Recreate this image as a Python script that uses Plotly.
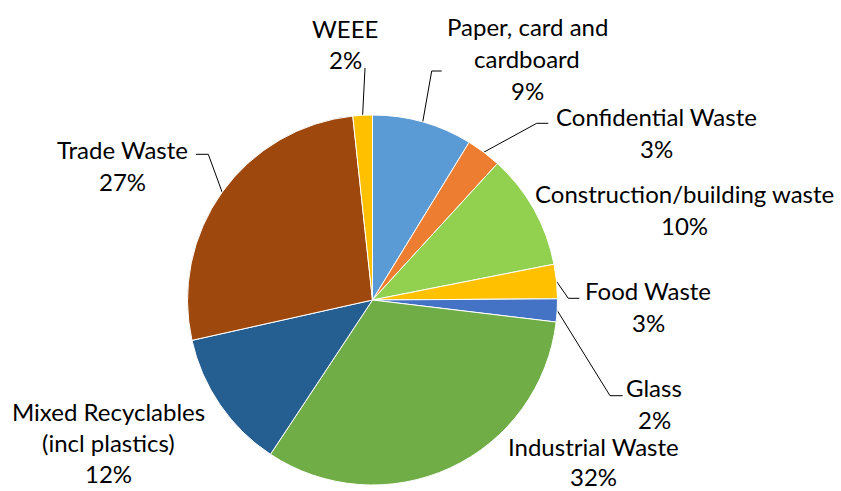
import math
import plotly.graph_objects as go

# Waste stream shares (%), clockwise from 12 o'clock
categories = [
    "Paper, card and cardboard",
    "Confidential Waste",
    "Construction/building waste",
    "Food Waste",
    "Glass",
    "Industrial Waste",
    "Mixed Recyclables (incl plastics)",
    "Trade Waste",
    "WEEE",
]
values = [8.75, 3.05, 10.1, 3.0, 2.0, 32.4, 12.2, 26.8, 1.7]
colors = ["#5B9BD5", "#ED7D31", "#92D050", "#FFC000", "#4472C4",
          "#70AD47", "#255E91", "#9E480E", "#FFC000"]

W, H = 841, 491
FONT = "Lato"
FSIZE = 24
LINE_GAP = 32

# pie geometry in pixels
CX, CY, R = 372.5, 300.0, 185.0

# how each category name is wrapped on the chart
wrapped = {
    "Paper, card and cardboard": ["Paper, card and", "cardboard"],
    "Mixed Recyclables (incl plastics)": ["Mixed Recyclables", "(incl plastics)"],
}

# label placement: centre x, centre y of first line (pixels), line gap
label_pos = {
    "Paper, card and cardboard": (527, 26, LINE_GAP),
    "Confidential Waste": (656, 116, LINE_GAP),
    "Construction/building waste": (684, 193, LINE_GAP),
    "Food Waste": (648, 290, LINE_GAP),
    "Glass": (654, 387, LINE_GAP),
    "Industrial Waste": (593, 446, 30),
    "Mixed Recyclables (incl plastics)": (108, 411, 31),
    "Trade Waste": (122, 149, LINE_GAP),
    "WEEE": (345, 28, 31),
}

# leader line bends, from the label end towards the pie
leader_bends = {
    "Paper, card and cardboard": [(441.7, 71), (431.7, 71)],
    "Confidential Waste": [(548.3, 123.3), (536.7, 123.3)],
    "Food Waste": [(579.3, 298.3), (568.3, 298.3)],
    "Glass": [(622.7, 395.7), (610.0, 395.7)],
    "Trade Waste": [(196.0, 154.3), (208.3, 154.3)],
    "WEEE": [(365.0, 68.0)],
}

fig = go.Figure()

fig.add_trace(go.Pie(
    labels=categories,
    values=values,
    sort=False,
    direction="clockwise",
    rotation=0,
    marker=dict(colors=colors, line=dict(color="white", width=1)),
    textinfo="none",
    hoverinfo="label+percent",
    showlegend=False,
    domain=dict(x=[(CX - R) / W, (CX + R) / W],
                y=[1 - (CY + R) / H, 1 - (CY - R) / H]),
))

total = sum(values)
cum = 0.0
annotations = []
for name, v in zip(categories, values):
    mid = (cum + v / 2) / total
    cum += v
    ang = 2 * math.pi * mid
    ex, ey = CX + R * math.sin(ang), CY - R * math.cos(ang)

    if name in leader_bends:
        pts = leader_bends[name] + [(ex, ey)]
        fig.add_trace(go.Scatter(
            x=[p[0] for p in pts], y=[p[1] for p in pts],
            mode="lines", line=dict(color="#000000", width=1),
            hoverinfo="skip", showlegend=False, xaxis="x", yaxis="y",
        ))

    lines = wrapped.get(name, [name]) + [f"{round(v / total * 100)}%"]
    lx, ly, gap = label_pos[name]
    for k, txt in enumerate(lines):
        annotations.append(dict(
            x=lx, y=ly + k * gap, xref="x", yref="y",
            text=txt, showarrow=False, xanchor="center", yanchor="middle",
            borderpad=0,
            font=dict(family=FONT, size=FSIZE, color="#000000"),
        ))

fig.update_layout(
    width=W, height=H,
    margin=dict(l=0, r=0, t=0, b=0),
    paper_bgcolor="white", plot_bgcolor="rgba(0,0,0,0)",
    xaxis=dict(range=[0, W], visible=False, domain=[0, 1], fixedrange=True),
    yaxis=dict(range=[H, 0], visible=False, domain=[0, 1], fixedrange=True),
    annotations=annotations,
)

fig.write_html("out.html")
